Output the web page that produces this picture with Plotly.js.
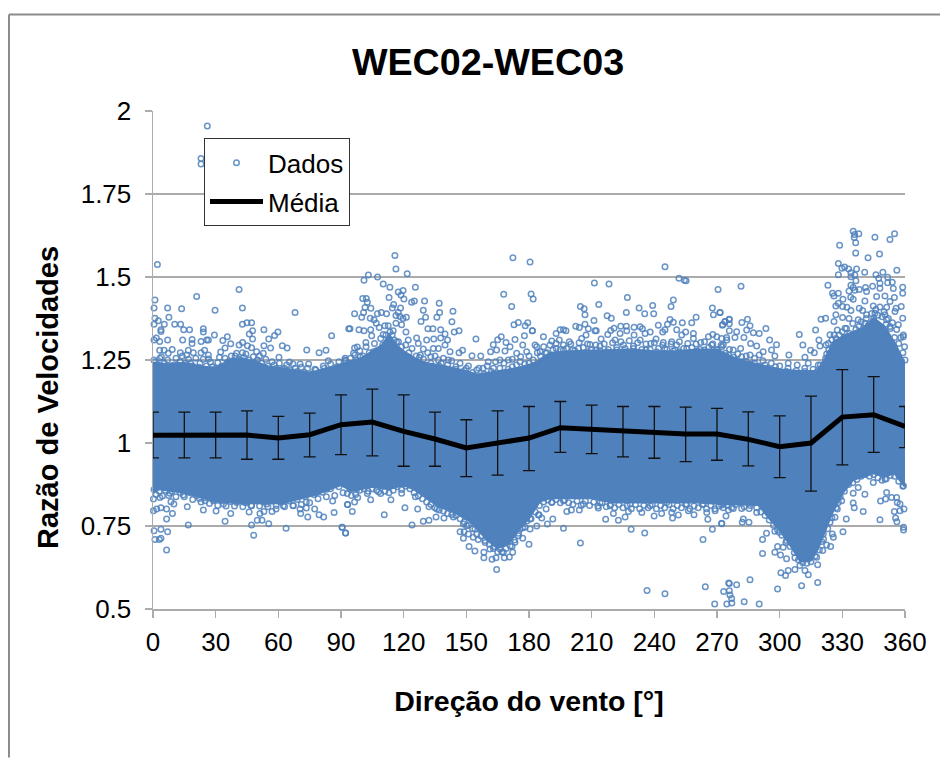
<!DOCTYPE html>
<html>
<head>
<meta charset="utf-8">
<script src="https://cdn.plot.ly/plotly-3.0.1.min.js"></script>
<style>html,body{margin:0;padding:0;background:#fff}#chart{width:940px;height:758px}</style>
</head>
<body>
<div id="chart"></div>
<script>
const titleText = "WEC02-WEC03";
const xTitle = "Direção do vento [°]";
const yTitle = "Razão de Velocidades";
const xTicks = [0,30,60,90,120,150,180,210,240,270,300,330,360];
const yTicks = [0.5,0.75,1,1.25,1.5,1.75,2];
const yTickText = ["0.5","0.75","1","1.25","1.5","1.75","2"];

// Mean and the ends of its error bars, read at each 15 degree bin.
const meanDir = [0,15,30,45,60,75,90,105,120,135,150,165,180,195,210,225,240,255,270,285,300,315,330,345,360];
const meanRatio = [1.023,1.023,1.023,1.024,1.015,1.025,1.055,1.063,1.035,1.012,0.985,1.0,1.015,1.046,1.041,1.035,1.032,1.027,1.027,1.011,0.989,1.0,1.078,1.085,1.05];
const errTop = [1.093,1.093,1.093,1.097,1.08,1.09,1.145,1.162,1.145,1.093,1.07,1.097,1.11,1.125,1.114,1.11,1.11,1.108,1.104,1.094,1.082,1.141,1.221,1.2,1.11];
const errBottom = [0.955,0.955,0.955,0.951,0.951,0.958,0.965,0.961,0.93,0.93,0.899,0.903,0.917,0.972,0.968,0.958,0.954,0.944,0.948,0.931,0.896,0.855,0.934,0.972,0.986];

// The solid core holds thousands of overlapping markers that cannot be read
// singly, so it is drawn as a band between limits.
const coreTopDir = [0,8,15,22,30,36,42,48,55,65,75,85,93,100,105,110,113,116,120,125,130,140,150,155,165,175,183,190,200,210,220,230,240,250,260,270,280,290,300,310,318,322,326,332,340,345,350,355,360];
const coreTopRatio = [1.24,1.235,1.24,1.23,1.225,1.245,1.255,1.245,1.23,1.22,1.21,1.225,1.24,1.255,1.275,1.295,1.325,1.295,1.275,1.255,1.24,1.23,1.215,1.205,1.215,1.225,1.24,1.27,1.275,1.277,1.28,1.28,1.275,1.275,1.28,1.28,1.25,1.235,1.22,1.215,1.215,1.255,1.305,1.325,1.345,1.375,1.35,1.3,1.235];
const coreBottomDir = [0,3,15,30,46,62,78,90,95,105,113,120,125,130,137,145,148,152,160,165,170,175,180,185,190,210,220,240,260,272,290,295,300,305,310,314,318,322,325,330,335,345,350,355,360];
const coreBottomRatio = [0.855,0.862,0.852,0.825,0.82,0.82,0.846,0.875,0.857,0.87,0.862,0.875,0.862,0.84,0.81,0.79,0.78,0.765,0.71,0.685,0.697,0.74,0.775,0.825,0.835,0.835,0.822,0.822,0.822,0.818,0.815,0.775,0.74,0.695,0.645,0.645,0.68,0.745,0.79,0.85,0.89,0.91,0.9,0.91,0.87];

// Individual markers: [direction, ratio].
const pointsTopA = [[2.1,1.538],[0.95,1.431],[0.5,1.407],[7,1.407],[13.7,1.404],[20.9,1.441],[29.7,1.4],[41.2,1.462],[42.8,1.407],[68,1.393],[7.6,1.379],[0.95,1.376],[2.55,1.368],[0.5,1.358],[5.4,1.358],[10.4,1.358],[13.2,1.358],[42.8,1.358],[45,1.362],[47.2,1.362],[3.8,1.341],[3.8,1.336],[14.7,1.341],[17.5,1.341],[24.1,1.344],[24.1,1.334],[53.1,1.341],[47.7,1.338],[46.1,1.328],[47.7,1.313],[93.7,1.344],[85.5,1.323],[59.8,1.334],[58.2,1.324],[55.4,1.313],[53.1,1.293],[35.6,1.32],[33.4,1.309],[29.4,1.325],[1.6,1.316],[0.5,1.31],[3.2,1.306],[7,1.31],[14.2,1.31],[18.7,1.312],[18.7,1.3],[23,1.306],[25.7,1.31],[26.5,1.31],[37.2,1.299],[41.2,1.295],[42.9,1.303],[45.2,1.293],[61.9,1.293],[64.2,1.286],[56.3,1.286],[73.6,1.28],[79.5,1.272],[82.8,1.279],[9.2,1.282],[3.2,1.279],[5.3,1.279],[13.1,1.272],[16.9,1.279],[19.3,1.272],[23,1.272],[24.7,1.279],[34.5,1.286],[32.4,1.274],[31.8,1.258],[26.5,1.265],[26.6,1.253],[39.3,1.262],[42.8,1.272],[47.2,1.287],[49.6,1.275],[52.8,1.27],[60.3,1.258],[83.9,1.248],[92.2,1.248],[93.7,1.24],[65.3,1.244],[70.4,1.238],[74.5,1.238],[28.6,1.23],[16.1,1.265],[7.3,1.27],[0.5,1.25],[3.3,1.255],[12.9,1.245],[22.5,1.24],[10,1.235],[18,1.24],[36,1.245],[50,1.25],[58,1.235],[63,1.225],[68,1.225],[78,1.22],[82,1.225],[88,1.23]];
const pointsTopB = [[115.8,1.565],[116.3,1.524],[121.7,1.51],[103.1,1.506],[107.5,1.5],[101,1.49],[110.2,1.479],[113.4,1.469],[125.6,1.469],[117.4,1.455],[119.7,1.459],[118.7,1.446],[120.1,1.434],[113,1.438],[100.4,1.435],[102.1,1.435],[102.6,1.424],[123.8,1.424],[125.1,1.428],[130,1.428],[137,1.421],[115.2,1.417],[114.6,1.407],[118.5,1.407],[101.5,1.408],[104.3,1.406],[100.8,1.393],[129.4,1.4],[137.2,1.393],[143.6,1.397],[96.5,1.389],[99.9,1.379],[107.4,1.389],[109.3,1.393],[111.8,1.389],[117.4,1.393],[116.3,1.384],[118.2,1.381],[121.3,1.379],[119.7,1.375],[130.5,1.379],[135.9,1.379],[128.3,1.366],[143.1,1.365],[104,1.376],[105.8,1.371],[106.9,1.361],[116.3,1.361],[119,1.356],[94.3,1.344],[98.6,1.341],[101,1.338],[104.2,1.341],[108.3,1.348],[111,1.353],[112.6,1.353],[131.6,1.344],[134,1.344],[137.7,1.341],[144.2,1.334],[146.5,1.338],[121.1,1.334],[139.8,1.328],[126.2,1.316],[131,1.31],[134.4,1.313],[137.7,1.316],[141,1.31],[154.6,1.313],[104.7,1.323],[110.2,1.327],[113.4,1.334],[115,1.338],[101.9,1.303],[97.8,1.289],[96.5,1.286],[172.8,1.356],[174.9,1.363],[178.2,1.353],[179.4,1.362],[181.6,1.338],[177.8,1.323],[173.3,1.312],[166.7,1.32],[165,1.311],[169,1.303],[162.9,1.296],[172.3,1.558],[180.5,1.545],[167.9,1.448],[181,1.449],[182,1.434],[171.7,1.411],[139.8,1.295],[129.4,1.283],[136.6,1.285],[134.2,1.285],[142.2,1.275],[146.5,1.272],[148.2,1.279],[152.7,1.263],[156.9,1.262],[161.6,1.275],[164.5,1.28],[168.5,1.277],[170.9,1.29],[174.1,1.27],[177,1.295],[178.9,1.275],[183.7,1.29],[96.7,1.265],[99.1,1.26],[91.9,1.25],[105.5,1.275],[112.6,1.305],[116.6,1.305],[122.2,1.31],[127,1.3],[136.6,1.25],[141.4,1.25],[160.5,1.245],[166.1,1.25],[170.1,1.25],[175.7,1.245],[145,1.23],[150,1.225],[155,1.22],[158,1.225],[163,1.225],[172,1.23],[180,1.24],[128,1.265],[133,1.26],[138,1.24]];
const pointsTopC = [[245.1,1.531],[251.8,1.496],[254.4,1.49],[255.2,1.489],[211.3,1.482],[218.3,1.479],[270.5,1.462],[227.1,1.438],[249.1,1.431],[248,1.411],[213.4,1.417],[204.6,1.411],[206.4,1.404],[206.8,1.386],[232.7,1.407],[239.2,1.414],[226.6,1.393],[235.4,1.389],[239.7,1.389],[267.8,1.407],[268.3,1.386],[271.5,1.393],[260,1.379],[257.9,1.362],[253.4,1.362],[217.4,1.383],[219.4,1.376],[211.1,1.369],[247.5,1.372],[246.3,1.358],[241.9,1.355],[249.1,1.364],[245.1,1.341],[244,1.334],[272.6,1.355],[273.9,1.366],[275.8,1.372],[202.4,1.352],[204.1,1.348],[206.8,1.358],[208.4,1.344],[211.6,1.338],[212.2,1.338],[181.6,1.338],[194.9,1.341],[196.5,1.341],[197.7,1.338],[193,1.33],[186.9,1.32],[207.3,1.325],[205.2,1.315],[214.5,1.313],[217.7,1.327],[219.1,1.339],[220.7,1.346],[223.9,1.352],[226.6,1.352],[230.3,1.349],[233.2,1.35],[234.3,1.344],[238,1.334],[223.6,1.33],[226.8,1.338],[230.3,1.325],[235.6,1.33],[240.8,1.313],[248.3,1.305],[250.7,1.341],[255,1.334],[258.7,1.33],[253.1,1.325],[258.7,1.315],[265.9,1.32],[268,1.327],[269.9,1.32],[274.7,1.31],[182.9,1.295],[190.9,1.307],[194.5,1.31],[199.3,1.305],[209.2,1.297],[214,1.292],[221.2,1.31],[225.2,1.295],[233.2,1.31],[238.3,1.3],[244.3,1.303],[250.7,1.295],[262.2,1.303],[267.5,1.295],[272.3,1.29],[255.5,1.285],[185.3,1.275],[196.5,1.28],[203.6,1.285],[217.2,1.275],[230,1.285],[241.1,1.275],[249.1,1.277],[260.3,1.277],[275.5,1.265],[188,1.27],[193,1.285],[201,1.28],[208,1.275],[212,1.28],[222,1.28],[227,1.275],[236,1.28],[245,1.285],[252,1.275],[264,1.28],[270,1.28]];
const pointsTopD = [[335.2,1.638],[335.9,1.628],[335.7,1.619],[336.4,1.603],[337.9,1.63],[345.6,1.62],[352.8,1.613],[355,1.63],[328.7,1.596],[336.4,1.572],[342.3,1.558],[347.8,1.569],[328.1,1.541],[331.1,1.53],[329.8,1.526],[333,1.524],[336.8,1.524],[328.1,1.507],[340.7,1.514],[356.1,1.52],[349.4,1.514],[346.1,1.507],[334.1,1.513],[336,1.506],[334.1,1.501],[336.5,1.489],[347.4,1.496],[351.7,1.499],[348,1.481],[351.7,1.483],[353.9,1.484],[323.1,1.475],[334.1,1.475],[335.2,1.468],[338.1,1.462],[341.1,1.468],[344.5,1.472],[358.9,1.469],[358.9,1.451],[354.4,1.465],[333.2,1.458],[336,1.46],[341.6,1.456],[348,1.466],[325.3,1.451],[328.1,1.451],[326,1.443],[330.3,1.433],[334,1.439],[335.2,1.433],[340.8,1.428],[346.4,1.441],[350.4,1.443],[354.9,1.438],[352.8,1.426],[328.1,1.421],[326.9,1.413],[330.1,1.411],[332.2,1.409],[334.1,1.399],[338.1,1.406],[339.7,1.399],[344.8,1.413],[351.2,1.409],[355.7,1.406],[358.2,1.411],[326.9,1.386],[330.1,1.378],[333.2,1.375],[341.6,1.386],[345.6,1.391],[350.4,1.386],[355.2,1.396],[358.9,1.376],[326,1.366],[337.6,1.371],[340.8,1.361],[351.2,1.371],[356.8,1.356],[319.8,1.373],[322,1.376],[317.2,1.34],[324.1,1.326],[309.4,1.327],[318.8,1.31],[319.3,1.292],[311.1,1.295],[327.6,1.34],[331.3,1.346],[336.8,1.33],[344.8,1.346],[347.2,1.351],[359.2,1.325],[359.2,1.32],[352.8,1.351],[314.8,1.279],[316.6,1.272],[304.4,1.265],[312.1,1.258],[322.2,1.295],[323.3,1.3],[281.5,1.472],[271.4,1.393],[293.4,1.345],[290.2,1.33],[287.4,1.332],[285.8,1.353],[284.6,1.373],[281.9,1.363],[275.9,1.373],[275.9,1.359],[273.8,1.366],[272.7,1.357],[284.2,1.34],[279.4,1.335],[275.9,1.338],[282.9,1.318],[278.6,1.318],[274.6,1.318],[272.2,1.315],[295.2,1.31],[298.5,1.296],[289,1.292],[286.1,1.3],[281.3,1.285],[296.1,1.28],[292.1,1.275],[297.7,1.262],[285.8,1.265],[290.2,1.265],[273,1.295],[277.8,1.28],[281.8,1.26],[304.1,1.24],[308.4,1.235],[313.7,1.24],[318.5,1.235],[312.1,1.215],[303.3,1.215],[279,1.25],[284,1.245],[288,1.24],[293,1.235],[298,1.23],[324,1.27],[322,1.255]];
const pointsBottomA = [[6.5,0.678],[0.5,0.736],[3.8,0.74],[7,0.733],[0.95,0.709],[3,0.709],[3.8,0.713],[16.9,0.753],[6.5,0.771],[0.2,0.796],[1.75,0.801],[3.8,0.805],[6.5,0.801],[9.3,0.788],[8.6,0.823],[10,0.816],[0.2,0.831],[3.3,0.836],[16.4,0.808],[24.1,0.798],[30.2,0.795],[34.5,0.764],[37.2,0.788],[46,0.792],[47.2,0.753],[48.2,0.722],[49.9,0.767],[52.2,0.767],[55.4,0.757],[51.2,0.788],[53.1,0.794],[57,0.794],[58.9,0.801],[63.7,0.743],[70.7,0.788],[70.4,0.801],[73.4,0.804],[74.1,0.777],[73.4,0.822],[77.4,0.801],[79.5,0.784],[81.7,0.777],[86,0.825],[86.7,0.791],[93.1,0.815],[90.5,0.746],[92.2,0.729],[22.2,0.833],[24.9,0.826],[28.9,0.826],[33.7,0.816],[40.1,0.821],[44,0.821],[47.2,0.811],[54.4,0.816],[62.4,0.811],[67.2,0.811],[78.4,0.851],[83.1,0.861],[8.1,0.849],[14.5,0.843],[18.5,0.849],[68.8,0.849]];
const pointsBottomB = [[90.6,0.746],[92.2,0.729],[93.2,0.815],[96.5,0.822],[95.4,0.794],[98,0.836],[102.6,0.848],[104.2,0.829],[108,0.853],[113.9,0.829],[110.7,0.784],[119,0.849],[120.6,0.805],[125.6,0.838],[126.7,0.801],[124,0.753],[129.4,0.764],[132.1,0.767],[135.5,0.777],[139.3,0.774],[143.8,0.777],[135.9,0.801],[132.1,0.808],[147,0.733],[148.9,0.733],[148.6,0.713],[151.3,0.688],[154.1,0.675],[158.4,0.671],[158.4,0.654],[162.3,0.65],[164.2,0.654],[164.5,0.619],[168.2,0.654],[170.6,0.657],[172.2,0.671],[171.9,0.688],[161.3,0.681],[163.2,0.688],[166.1,0.681],[167.7,0.671],[180,0.695],[180.5,0.741],[183.7,0.75],[180.5,0.771],[184.5,0.783],[177,0.713],[174.9,0.721],[173.3,0.701],[151,0.726],[153.3,0.716],[155.7,0.709],[158.9,0.706],[150.1,0.751],[154.1,0.741],[175.7,0.741],[178.1,0.746],[148.6,0.756],[94.3,0.861],[97.5,0.861],[91.9,0.876],[123.8,0.873],[119.8,0.876],[112.6,0.871]];
const pointsBottomC = [[204.6,0.699],[196.5,0.743],[188.8,0.756],[216.7,0.77],[222.8,0.767],[226,0.777],[228.9,0.74],[235.4,0.729],[239.9,0.78],[248.7,0.774],[259,0.784],[265.6,0.77],[267.8,0.74],[263.3,0.709],[272.3,0.757],[274.3,0.78],[236.5,0.556],[245.1,0.546],[264.4,0.567],[268.9,0.515],[273.2,0.553],[274.7,0.515],[275.6,0.578],[191.4,0.771],[186.1,0.774],[184.8,0.784],[204.1,0.798],[200.3,0.798],[198.1,0.794],[188.2,0.801],[190.9,0.821],[213.2,0.804],[220.4,0.788],[227.6,0.794],[234,0.791],[243.5,0.788],[248.3,0.791],[251.5,0.783],[256.3,0.796],[265.1,0.791],[269.1,0.796],[275.5,0.798],[196.5,0.826],[206,0.816],[214,0.821],[218.8,0.811],[228.4,0.816],[238,0.811],[245.9,0.821],[255.5,0.816],[263.5,0.816],[273.1,0.816]];
const pointsBottomD = [[290.2,0.515],[283,0.522],[277.1,0.518],[276.2,0.542],[277,0.532],[275.9,0.555],[275.9,0.577],[279.4,0.573],[285.8,0.588],[299,0.56],[310.5,0.57],[318.2,0.58],[300.6,0.609],[302.8,0.601],[304.1,0.616],[307.3,0.619],[309.7,0.631],[312.1,0.616],[313.7,0.603],[318.2,0.633],[291.8,0.667],[297.7,0.671],[300.4,0.663],[303.3,0.651],[307.3,0.654],[311.3,0.651],[314.5,0.653],[317.7,0.656],[291.8,0.709],[293.7,0.728],[299,0.688],[303.3,0.706],[301.7,0.686],[320.6,0.676],[324.4,0.688],[322.5,0.693],[325.7,0.716],[325.2,0.726],[320.1,0.703],[297.7,0.734],[299.8,0.731],[320.9,0.726],[330.3,0.733],[331.9,0.771],[326.5,0.776],[324.1,0.761],[340,0.794],[335.7,0.805],[335.2,0.819],[327.6,0.801],[348.3,0.825],[350.7,0.831],[348,0.769],[355.5,0.774],[356.1,0.763],[359.3,0.746],[359.3,0.738],[354.9,0.794],[357.6,0.796],[359.5,0.801],[356.3,0.821],[353.6,0.836],[357.6,0.816],[272.2,0.813],[272.2,0.758],[277.8,0.803],[281.8,0.803],[285.4,0.803],[282.1,0.761],[285.3,0.761],[282.6,0.771],[289,0.791],[293.7,0.796],[296.9,0.776],[300.9,0.761],[281,0.821],[287.4,0.821],[292.1,0.816],[328.1,0.821],[329.7,0.826],[335.2,0.849],[340.8,0.846],[344.8,0.881],[337.6,0.866],[350.4,0.891],[351.2,0.851],[356,0.836],[359.2,0.871]];
// The marker above the legend and two partly hidden behind it.
const pointsLegendArea = [[26,1.955],[23,1.857],[23,1.84]];

// Markers crowding the edge of the core. These are estimated by eye from the
// ragged outline, not read one by one.
const edgeTop = [[1,1.245],[2.5,1.235],[4,1.26],[5.5,1.24],[7,1.25],[8.5,1.232],[11,1.255],[12,1.235],[14,1.262],[15.5,1.24],[17,1.252],[19,1.232],[20.5,1.255],[22,1.228],[24,1.252],[25.5,1.232],[27.5,1.244],[30,1.225],[31,1.242],[33,1.232],[34.5,1.255],[35.5,1.24],[37.5,1.262],[38.5,1.248],[40,1.27],[41,1.252],[43.5,1.258],[44.5,1.268],[46,1.25],[48,1.26],[49,1.242],[51,1.262],[52,1.24],[54,1.252],[55,1.232],[57,1.245],[59,1.225],[60.5,1.24],[62,1.222],[64,1.235],[66,1.218],[67,1.238],[69,1.215],[71,1.228],[72.5,1.212],[74,1.225],[76,1.208],[77.5,1.222],[80,1.212],[81.5,1.232],[83.5,1.218],[85,1.238],[86.5,1.222],[89,1.245],[90.5,1.23],[92,1.255],[94.5,1.255],[96,1.27],[97.5,1.25],[99,1.278],[100.5,1.262],[102,1.29],[103.5,1.272],[106,1.3],[107,1.278],[109,1.315],[110,1.295],[111.5,1.325],[114.5,1.325],[115.5,1.31],[117.5,1.305],[119,1.29],[121,1.295],[122.5,1.272],[124,1.285],[126,1.262],[127.5,1.258],[129.5,1.252],[131.5,1.272],[133,1.24],[135,1.262],[137,1.232],[139,1.255],[141,1.235],[143,1.248],[145,1.222],[147,1.24],[149,1.218],[151,1.232],[153,1.212],[156,1.225],[158.5,1.208],[160,1.232],[162,1.215],[164,1.245],[166,1.225],[168,1.24],[170,1.222],[172,1.252],[174,1.235],[176,1.26],[178,1.238],[180,1.262],[182,1.25],[184,1.272],[185.5,1.262],[187,1.29],[188.5,1.272],[190,1.295],[191.5,1.28],[193,1.3],[195,1.282],[196.5,1.295],[198,1.285],[200,1.298],[202,1.278],[204,1.302],[206,1.288],[208,1.298],[210,1.28],[212,1.295],[214,1.278],[216,1.298],[218,1.282],[220,1.302],[222,1.288],[224,1.305],[226,1.285],[228,1.308],[230,1.292],[232,1.302],[234,1.282],[236,1.298],[238,1.282],[240,1.302],[242,1.285],[244,1.295],[246,1.282],[248,1.298],[250,1.28],[252,1.305],[254,1.285],[256,1.3],[258,1.288],[260,1.298],[262,1.282],[264,1.305],[266,1.288],[268,1.298],[270,1.282],[272,1.295],[274,1.27],[276,1.282],[278,1.258],[280,1.268],[282,1.245],[284,1.262],[286,1.238],[288,1.255],[290,1.232],[292,1.248],[294,1.225],[296,1.24],[298,1.218],[300,1.232],[302,1.21],[304,1.225],[306,1.205],[308,1.218],[310,1.208],[312,1.225],[314,1.205],[316,1.222],[318,1.215],[319.5,1.235],[321,1.225],[322.5,1.268],[323.5,1.28],[325,1.31],[326,1.325],[327,1.315],[328.5,1.325],[330,1.335],[331,1.318],[332,1.345],[333.5,1.33],[335,1.36],[336.5,1.342],[338,1.352],[339,1.365],[340,1.345],[341.5,1.375],[342.5,1.355],[344,1.39],[345,1.375],[346,1.402],[347,1.385],[348,1.41],[349,1.38],[350,1.395],[351,1.358],[352,1.375],[353,1.345],[354,1.362],[355,1.318],[356,1.342],[357,1.3],[358,1.318],[359,1.272],[359.8,1.29],[360,1.25]];
const edgeBottom = [[0.5,0.86],[1.5,0.845],[3,0.855],[4.5,0.84],[6,0.858],[7.5,0.842],[9,0.855],[11,0.838],[13,0.852],[15,0.838],[17,0.852],[19,0.83],[21,0.842],[23,0.822],[25,0.835],[27,0.818],[29,0.83],[31,0.812],[33,0.826],[35,0.81],[37,0.824],[39,0.81],[41,0.825],[43,0.808],[45,0.82],[47,0.812],[49,0.826],[51,0.81],[53,0.822],[55,0.808],[57,0.825],[59,0.812],[61,0.822],[63,0.808],[65,0.825],[67,0.812],[69,0.83],[71,0.815],[73,0.838],[75,0.82],[77,0.845],[79,0.832],[81,0.852],[83,0.838],[85,0.862],[87,0.842],[89,0.868],[91,0.85],[93,0.848],[95,0.842],[97,0.845],[99,0.858],[101,0.862],[103,0.855],[105,0.862],[107,0.858],[109,0.848],[111,0.855],[113,0.85],[115,0.858],[117,0.868],[119,0.86],[121,0.87],[123,0.862],[125,0.85],[127,0.84],[129,0.832],[131,0.822],[133,0.815],[135,0.805],[137,0.798],[139,0.795],[141,0.788],[143,0.785],[145,0.782],[147,0.772],[149,0.762],[151,0.752],[153,0.742],[155,0.725],[157,0.72],[159,0.7],[161,0.695],[163,0.682],[165,0.672],[167,0.672],[169,0.682],[171,0.69],[173,0.708],[175,0.728],[177,0.745],[179,0.765],[181,0.772],[183,0.792],[185,0.812],[187,0.822],[189,0.828],[191,0.822],[193,0.83],[195,0.82],[197,0.828],[199,0.82],[201,0.815],[203,0.825],[205,0.812],[207,0.825],[209,0.812],[211,0.822],[213,0.81],[215,0.82],[217,0.808],[219,0.815],[221,0.805],[223,0.815],[225,0.805],[227,0.812],[229,0.802],[231,0.815],[233,0.802],[235,0.812],[237,0.805],[239,0.815],[241,0.802],[243,0.812],[245,0.805],[247,0.815],[249,0.802],[251,0.812],[253,0.805],[255,0.815],[257,0.802],[259,0.81],[261,0.805],[263,0.815],[265,0.802],[267,0.812],[269,0.802],[271,0.81],[273,0.805],[275,0.812],[277,0.805],[279,0.815],[283,0.808],[286,0.812],[289,0.805],[291,0.792],[293,0.782],[295,0.768],[297,0.752],[299,0.738],[301,0.722],[303,0.7],[305,0.688],[307,0.67],[309,0.648],[311,0.64],[313,0.638],[315,0.642],[317,0.66],[319,0.678],[321,0.71],[323,0.742],[325,0.775],[327,0.805],[329,0.838],[331,0.855],[333,0.875],[335,0.88],[337,0.89],[339,0.9],[341,0.905],[343,0.9],[345,0.905],[347,0.895],[349,0.888],[351,0.892],[353,0.902],[355,0.9],[357,0.885],[359,0.87]];

const blue = "#4F81BD";
const allPoints = [].concat(pointsTopA,pointsTopB,pointsTopC,pointsTopD,pointsBottomA,pointsBottomB,pointsBottomC,pointsBottomD,pointsLegendArea,edgeTop,edgeBottom);

const coreTrace = {
  name: "Dados (núcleo)", type: "scatter", mode: "lines", showlegend: false, hoverinfo: "skip",
  x: coreTopDir.concat(coreBottomDir.slice().reverse()),
  y: coreTopRatio.concat(coreBottomRatio.slice().reverse()),
  fill: "toself", fillcolor: blue, line: {color: blue, width: 3, shape: "linear"}, cliponaxis: false
};
const pointsTrace = {
  name: "Dados", type: "scatter", mode: "markers", legendgroup: "a",
  x: allPoints.map(p => p[0]), y: allPoints.map(p => p[1]),
  marker: {symbol: "circle-open", size: 5.5, color: blue, opacity: 0.85, line: {width: 1.5, color: blue}},
  cliponaxis: false
};
const meanTrace = {
  name: "Média", type: "scatter", mode: "lines", legendgroup: "b",
  x: meanDir, y: meanRatio,
  line: {color: "#000", width: 5},
  error_y: {type: "data", symmetric: false,
    array: errTop.map((v,i) => v - meanRatio[i]),
    arrayminus: errBottom.map((v,i) => meanRatio[i] - v),
    color: "#111", thickness: 1.3, width: 6},
  cliponaxis: false
};
const frameColor = "#8c8c8c";
const layout = {
  width: 940, height: 758, paper_bgcolor: "#fff", plot_bgcolor: "#fff",
  margin: {l: 153, r: 35, t: 110.7, b: 148.7},
  font: {family: "Liberation Sans, Arial, sans-serif", color: "#000", size: 26},
  title: {text: titleText, font: {size: 37.7, color: "#000", weight: 700}, x: 488/940, xanchor: "center", y: 1-62/758, yanchor: "middle"},
  xaxis: {range: [0,360], tickvals: xTicks, ticktext: xTicks.map(String), ticks: "outside", ticklen: 7, tickwidth: 1.5, tickcolor: "#ababab",
    ticklabelstandoff: 2,
    showline: true, linecolor: "#ababab", linewidth: 1.5, showgrid: false, zeroline: false, tickangle: 0,
    tickfont: {size: 26}, title: {text: xTitle, font: {size: 28.5, weight: 700}, standoff: 35}, automargin: false},
  yaxis: {range: [0.5,2], tickvals: yTicks, ticktext: yTickText, ticks: "outside", ticklen: 7, tickwidth: 1.5, tickcolor: "#ababab",
    ticklabelstandoff: 8,
    showline: true, linecolor: "#ababab", linewidth: 1.5, showgrid: true, gridcolor: "#ababab", gridwidth: 1.5, zeroline: false,
    tickfont: {size: 26}, automargin: false},
  annotations: [{text: yTitle, xref: "paper", yref: "paper", x: (48-153)/752, y: (609.3-398)/498.6, xanchor: "center", yanchor: "middle",
    textangle: -90, showarrow: false, font: {size: 29, weight: 700, color: "#000"}}],
  legend: {x: (204-153)/752, xanchor: "left", y: (609.3-138)/498.6, yanchor: "top", bgcolor: "#fff", bordercolor: "#333", borderwidth: 1,
    itemwidth: 53, tracegroupgap: 2, traceorder: "grouped", font: {size: 26}, itemclick: false},
  shapes: [
    {type: "line", xref: "paper", yref: "paper", x0: (9-153)/752, x1: (9-153)/752, y0: (609.3-14)/498.6, y1: (609.3-758)/498.6, line: {color: frameColor, width: 2}},
    {type: "line", xref: "paper", yref: "paper", x0: (9-153)/752, x1: (940-153)/752, y0: (609.3-14)/498.6, y1: (609.3-14)/498.6, line: {color: frameColor, width: 2}}
  ]
};
Plotly.newPlot("chart", [coreTrace, pointsTrace, meanTrace], layout, {displayModeBar: false, staticPlot: true});
</script>
</body>
</html>
